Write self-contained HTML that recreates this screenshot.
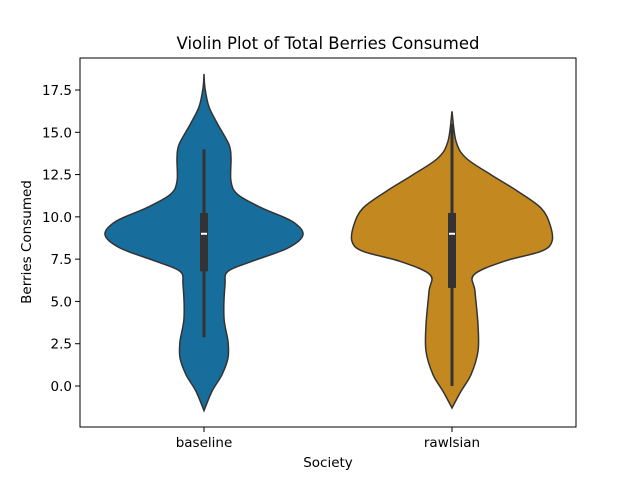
<!DOCTYPE html>
<html><head><meta charset="utf-8"><style>
body{margin:0;background:#fff}
svg text{font-family:"DejaVu Sans","Liberation Sans",sans-serif;fill:#000}
</style></head><body>
<svg id="chart" width="640" height="480" xmlns="http://www.w3.org/2000/svg">
<rect width="640" height="480" fill="#fff"/>
<text x="328" y="49" font-size="16.5" text-anchor="middle">Violin Plot of Total Berries Consumed</text>
<text x="328" y="467" font-size="13.5" text-anchor="middle">Society</text>
<text transform="translate(31,242) rotate(-90)" font-size="13.5" text-anchor="middle">Berries Consumed</text>
<g id="plot"></g>
</svg>
<script>
const categories = ["baseline", "rawlsian"];
const colors = ["#176d9c", "#c38820"];
const yTicks = [0, 2.5, 5, 7.5, 10, 12.5, 15, 17.5];
const yTickLabels = ["0.0", "2.5", "5.0", "7.5", "10.0", "12.5", "15.0", "17.5"];
const baselineY = [18.45,17.6,16.5,15.45,14.27,13.48,12.1,11.31,10.52,9.74,8.95,8.16,7.37,6.78,5.99,4.02,2.64,1.66,0.67,-0.31,-1.46];
const baselineDensity = [0,0.01,0.05,0.14,0.25,0.27,0.27,0.34,0.58,0.88,0.99,0.84,0.48,0.24,0.21,0.20,0.24,0.24,0.18,0.08,0];
const rawlsianY = [16.24,14.47,13.48,12.49,11.5,10.52,9.54,8.55,7.96,7.37,6.58,5.6,3.62,2.05,0.67,-0.31,-1.3];
const rawlsianDensity = [0,0.04,0.14,0.39,0.66,0.89,0.98,1.0,0.89,0.52,0.22,0.23,0.26,0.26,0.19,0.09,0];
const boxQ1 = [6.78, 5.8];
const boxQ3 = [10.23, 10.23];
const medians = [9, 9];
const whiskLo = [2.88, 0];
const whiskHi = [14.0, 15.5];

const NS="http://www.w3.org/2000/svg";
const L=80,R=576,T=58,B=427;
const y=v=>386-v*(296/17.5);
const x=i=>L+(R-L)*(i+0.5)/categories.length;
const maxHalf=100;
const g=document.getElementById('plot');
function mk(tag,attrs){const e=document.createElementNS(NS,tag);for(const k in attrs)e.setAttribute(k,attrs[k]);g.appendChild(e);return e;}
function smooth(pts){let d=`M${pts[0][0]},${pts[0][1]}`;for(let i=0;i<pts.length-1;i++){const p0=pts[Math.max(0,i-1)],p1=pts[i],p2=pts[i+1],p3=pts[Math.min(pts.length-1,i+2)];d+=` C${p1[0]+(p2[0]-p0[0])/6},${p1[1]+(p2[1]-p0[1])/6} ${p2[0]-(p3[0]-p1[0])/6},${p2[1]-(p3[1]-p1[1])/6} ${p2[0]},${p2[1]}`;}return d;}
const ys=[baselineY,rawlsianY],ds=[baselineDensity,rawlsianDensity];
categories.forEach((c,i)=>{
  const cx=x(i);
  const right=ys[i].map((v,j)=>[cx+ds[i][j]*maxHalf,y(v)]);
  const left=ys[i].map((v,j)=>[cx-ds[i][j]*maxHalf,y(v)]).reverse();
  const d=smooth(right)+" "+smooth(left).replace(/^M/,"L")+" Z";
  const v=mk('path',{d:d,fill:colors[i],stroke:"#333",'stroke-width':1.5});
  
  
  const w=mk('line',{x1:cx,x2:cx,y1:y(whiskLo[i]),y2:y(whiskHi[i]),stroke:"#333",'stroke-width':3});
  
  
  const b=mk('rect',{x:cx-4,width:8,y:y(boxQ3[i]),height:y(boxQ1[i])-y(boxQ3[i]),fill:"#333"});
  
  
  const m=mk('line',{x1:cx-3,x2:cx+3,y1:y(medians[i]),y2:y(medians[i]),stroke:"#fff",'stroke-width':2});
  
  
  const tk=mk('line',{x1:cx,x2:cx,y1:B,y2:B+5,stroke:"#000",'stroke-width':1});
  
  
  const t=mk('text',{x:cx,y:B+20,'font-size':13.5,'text-anchor':'middle'});
  t.textContent=c;
  
  
});
yTicks.forEach((v,j)=>{
  const tk=mk('line',{x1:L-5,x2:L,y1:y(v),y2:y(v),stroke:"#000",'stroke-width':1});
  
  
  const t=mk('text',{x:L-8,y:y(v)+5,'font-size':13.5,'text-anchor':'end'});
  t.textContent=yTickLabels[j];
  
  
});
const f=mk('rect',{x:L,y:T,width:R-L,height:B-T,fill:'none',stroke:'#000','stroke-width':1});


</script>
</body></html>
